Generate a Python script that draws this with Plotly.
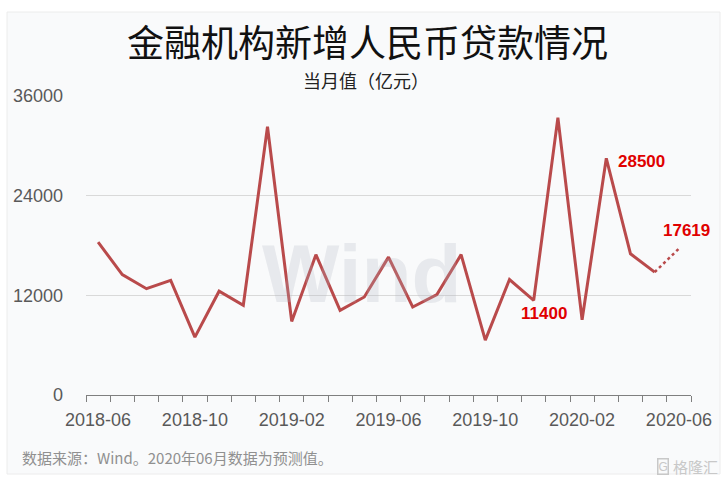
import plotly.graph_objects as go

months = ["2018-06", "2018-07", "2018-08", "2018-09", "2018-10", "2018-11", "2018-12",
          "2019-01", "2019-02", "2019-03", "2019-04", "2019-05", "2019-06", "2019-07",
          "2019-08", "2019-09", "2019-10", "2019-11", "2019-12", "2020-01", "2020-02",
          "2020-03", "2020-04", "2020-05", "2020-06"]
loans = [18400, 14500, 12800, 13800, 6970, 12500, 10800, 32300, 8858, 16900, 10200,
         11800, 16600, 10600, 12100, 16900, 6613, 13900, 11400, 33400, 9057, 28500,
         17000, 14800]
forecast_months = ["2020-05", "2020-06"]
forecast_values = [14800, 17619]
tick_labels = ["2018-06", "2018-10", "2019-02", "2019-06", "2019-10", "2020-02", "2020-06"]
y_ticks = [0, 12000, 24000, 36000]
labels = [("2020-03", 28500, "28500"), ("2019-12", 11400, "11400"), ("2020-06", 17619, "17619")]

W, H = 727, 482
ML, MR, MT, MB = 86, 36, 96, 87
PW, PH = W - ML - MR, H - MT - MB


def px(x):
    return (x - ML) / PW


def py(y):
    return (H - MB - y) / PH


LINE = "#b94a4b"
RED = "#e00000"

fig = go.Figure()
fig.add_trace(go.Scatter(x=months[:len(loans)], y=loans, mode="lines",
                         line=dict(color=LINE, width=3), hoverinfo="skip"))
fig.add_trace(go.Scatter(x=forecast_months, y=forecast_values, mode="lines",
                         line=dict(color=LINE, width=2.5, dash="dot"), hoverinfo="skip"))

annotations = []
shifts = {"28500": (10, -3, "left"), "11400": (10, -13, "center"), "17619": (8, 18, "center")}
for m, v, t in labels:
    xs, ys, xa = shifts[t]
    annotations.append(dict(x=m, y=v, xref="x", yref="y", text="<b>%s</b>" % t, showarrow=False,
                            xanchor=xa, yanchor="middle", xshift=xs, yshift=ys,
                            font=dict(family="Liberation Sans, Arial", size=17, color=RED)))

annotations += [
    dict(x=px(362), y=py(273), xref="paper", yref="paper", text="<b>Wind</b>", showarrow=False,
         xanchor="center", yanchor="middle",
         font=dict(family="Liberation Sans, Arial", size=82, color="rgba(176,181,192,0.24)")),
    dict(x=px(367), y=py(41), xref="paper", yref="paper", text="金融机构新增人民币贷款情况",
         showarrow=False, xanchor="center", yanchor="middle",
         font=dict(family="Noto Sans CJK SC", size=37, color="#111111")),
    dict(x=px(366), y=py(80), xref="paper", yref="paper", text="当月值（亿元）",
         showarrow=False, xanchor="center", yanchor="middle",
         font=dict(family="Noto Sans CJK SC", size=18, color="#222222")),
    dict(x=px(20), y=py(457), xref="paper", yref="paper",
         text="数据来源：Wind。2020年06月数据为预测值。",
         showarrow=False, xanchor="left", yanchor="middle",
         font=dict(family="Noto Sans CJK SC", size=15, color="#909090")),
    dict(x=px(663), y=py(466), xref="paper", yref="paper", text="G",
         showarrow=False, xanchor="center", yanchor="middle", bordercolor="#c8c8c8",
         borderwidth=1.5, borderpad=0,
         font=dict(family="Liberation Sans, Arial", size=12, color="#c8c8c8")),
    dict(x=px(695), y=py(466), xref="paper", yref="paper", text="格隆汇",
         showarrow=False, xanchor="center", yanchor="middle",
         font=dict(family="Noto Sans CJK SC", size=15, color="#c8c8c8")),
]

fig.update_layout(
    width=W, height=H,
    margin=dict(l=ML, r=MR, t=MT, b=MB, autoexpand=False),
    paper_bgcolor="white",
    plot_bgcolor="rgba(0,0,0,0)",
    showlegend=False,
    annotations=annotations,
    shapes=[dict(type="rect", xref="paper", yref="paper", x0=px(7), x1=px(720), y0=py(474), y1=py(12),
                 fillcolor="#f9fafb", line=dict(color="#ececec", width=1), layer="below")],
    xaxis=dict(type="category", categoryorder="array", categoryarray=months,
               range=[-0.5, len(months) - 0.5], automargin=False,
               tickmode="array", tickvals=months, tickangle=0,
               ticktext=[m if m in tick_labels else "" for m in months],
               tickson="boundaries", ticks="outside", ticklen=6, tickcolor="#7f7f7f", tickwidth=1,
               ticklabelstandoff=8,
               showline=True, linecolor="#7f7f7f", linewidth=1, showgrid=False, zeroline=False,
               tickfont=dict(family="Liberation Sans, Arial", size=18, color="#595959")),
    yaxis=dict(range=[0, 36000], tickmode="array", tickvals=y_ticks, automargin=False,
               ticktext=[str(v) for v in y_ticks],
               showgrid=True, gridcolor="#d9d9d9", gridwidth=1, zeroline=False, showline=False,
               ticks="", ticklabelstandoff=22,
               tickfont=dict(family="Liberation Sans, Arial", size=18, color="#595959")),
)

fig.write_html("out.html", config={"displayModeBar": False, "staticPlot": True},
               post_script="document.body.style.margin='0';document.body.style.padding='0';"
                           "document.body.style.overflow='hidden';")
